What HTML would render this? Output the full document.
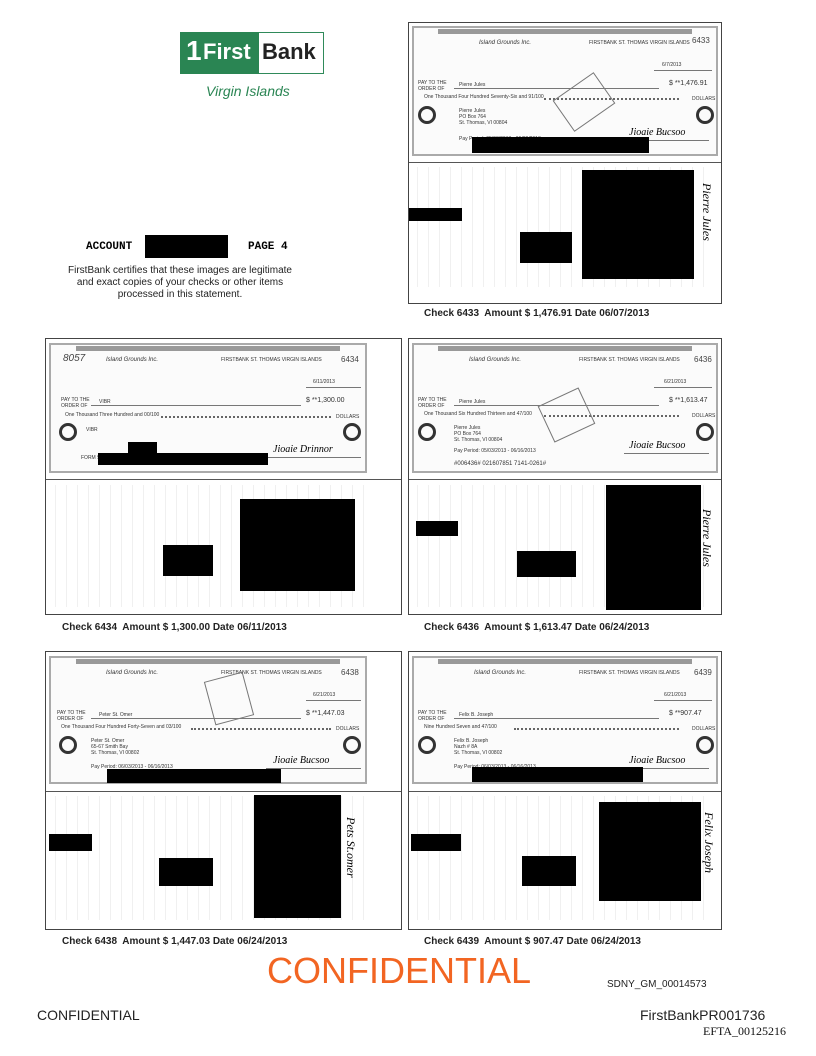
<!DOCTYPE html>
<html><head><meta charset="utf-8"><style>
*{margin:0;padding:0;box-sizing:border-box}
body{width:816px;height:1056px;background:#fff;position:relative;font-family:"Liberation Sans",sans-serif;overflow:hidden}
.a{position:absolute;white-space:nowrap}
.panel{position:absolute;border:1.5px solid #444;background:#fff}
.div{position:absolute;left:0;right:0;border-top:1.5px solid #555}
.chk{position:absolute;border:2px solid #aaa;background:#fbfbfb;overflow:hidden}
.band{position:absolute;left:8%;right:8%;top:1px;height:5px;background:#999}
.ring{position:absolute;width:18px;height:18px;border:3px solid #333;border-radius:50%}
.t{position:absolute;font-size:5px;color:#333;white-space:nowrap}
.ln{position:absolute;border-top:1px solid #777}
.dl{position:absolute;border-top:2px dotted #666}
.blk{position:absolute;background:#000}
.back{position:absolute;background:repeating-linear-gradient(90deg,#fff 0 6px,#f0f0f0 6px 7px,#fff 7px 11px);}
.lbl{position:absolute;font-size:10px;font-weight:bold;color:#222;white-space:nowrap}
.num{position:absolute;font-size:8px;color:#444}
.sig{position:absolute;font-family:'Liberation Serif',serif;font-style:italic;font-size:10px;white-space:nowrap}
.vs{position:absolute;font-family:'Liberation Serif',serif;font-style:italic;font-size:12px;white-space:nowrap;transform:rotate(90deg);transform-origin:left top}
</style></head><body>

<!-- Logo -->
<div class="a" style="left:180px;top:32px;width:144px;height:42px;border:1.5px solid #2f8a5a;background:#fff"></div>
<div class="a" style="left:180px;top:32px;width:79px;height:42px;background:#2a8553"></div>
<div class="a" style="left:186px;top:35px;font-size:28px;font-weight:bold;color:#fff;letter-spacing:-1px">1</div>
<div class="a" style="left:203px;top:39px;font-size:22px;font-weight:bold;color:#fff">First</div>
<div class="a" style="left:262px;top:39px;font-size:22px;font-weight:bold;color:#222">Bank</div>
<div class="a" style="left:206px;top:83px;font-size:14px;font-style:italic;color:#2a8553">Virgin Islands</div>

<div class="a" style="left:86px;top:241px;font-family:'Liberation Mono',monospace;font-weight:bold;font-size:11px">ACCOUNT</div>
<div class="blk" style="left:145px;top:235px;width:83px;height:23px"></div>
<div class="a" style="left:248px;top:241px;font-family:'Liberation Mono',monospace;font-weight:bold;font-size:11px">PAGE 4</div>
<div class="a" style="left:60px;top:265px;width:240px;text-align:center;font-size:10px;line-height:12px;color:#222">FirstBank certifies that these images are legitimate<br>and exact copies of your checks or other items<br>processed in this statement.</div>

<!-- Panel 1 -->
<div class="panel" style="left:408px;top:22px;width:314px;height:282px">
 <div class="chk" style="left:3px;top:3px;width:306px;height:130px">
  <div class="band"></div>
  <div class="t" style="left:65px;top:12px;font-style:italic;font-size:6px">Island Grounds Inc.</div>
  <div class="t" style="left:175px;top:12px">FIRSTBANK ST. THOMAS VIRGIN ISLANDS</div>
  <div class="num" style="left:278px;top:8px">6433</div>
  <div class="t" style="left:248px;top:34px">6/7/2013</div>
  <div class="ln" style="left:240px;top:42px;width:58px"></div>
  <div class="t" style="left:4px;top:52px">PAY TO THE<br>ORDER OF</div>
  <div class="t" style="left:45px;top:54px">Pierre Jules</div>
  <div class="ln" style="left:40px;top:60px;width:205px"></div>
  <div class="t" style="left:255px;top:52px;font-size:7px">$ **1,476.91</div>
  <div class="t" style="left:10px;top:66px">One Thousand Four Hundred Seventy-Six and 91/100</div>
  <div class="dl" style="left:130px;top:70px;width:135px"></div>
  <div class="t" style="left:278px;top:68px">DOLLARS</div>
  <div class="ring" style="left:4px;top:78px"></div><div class="ring" style="left:282px;top:78px"></div>
  <div class="t" style="left:45px;top:80px;line-height:6px">Pierre Jules<br>PO Box 764<br>St. Thomas, VI 00804</div>
  <div class="t" style="left:45px;top:108px">Pay Period: 05/03/2013 - 06/02/2013</div>
  <div class="ln" style="left:210px;top:112px;width:85px"></div>
  <div class="sig" style="left:215px;top:99px">Jioaie Bucsoo</div>
  <div class="a" style="left:145px;top:55px;width:50px;height:38px;border:1px solid #777;transform:rotate(-35deg)"></div>
 </div>
 <div class="blk" style="left:63px;top:114px;width:177px;height:16px"></div>
 <div class="div" style="top:139px"></div>
 <div class="back" style="left:2px;top:144px;width:300px;height:120px"></div>
 <div class="blk" style="left:173px;top:147px;width:112px;height:109px"></div>
 <div class="blk" style="left:111px;top:209px;width:52px;height:31px"></div>
 <div class="blk" style="left:0px;top:185px;width:53px;height:13px"></div>
 <div class="vs" style="left:305px;top:160px">Pierre Jules</div>
</div>
<div class="lbl" style="left:424px;top:308px">Check 6433&nbsp; Amount $ 1,476.91 Date 06/07/2013</div>

<!-- Panel 2 -->
<div class="panel" style="left:45px;top:338px;width:357px;height:277px">
 <div class="chk" style="left:3px;top:4px;width:318px;height:130px">
  <div class="band"></div>
  <div class="t" style="left:55px;top:12px;font-style:italic;font-size:6px">Island Grounds Inc.</div>
  <div class="t" style="left:170px;top:12px">FIRSTBANK ST. THOMAS VIRGIN ISLANDS</div>
  <div class="a" style="left:12px;top:8px;font-style:italic;font-size:10px;color:#444">8057</div>
  <div class="num" style="left:290px;top:10px">6434</div>
  <div class="t" style="left:262px;top:34px">6/11/2013</div>
  <div class="ln" style="left:255px;top:42px;width:55px"></div>
  <div class="t" style="left:10px;top:52px">PAY TO THE<br>ORDER OF</div>
  <div class="t" style="left:48px;top:54px">VIBR</div>
  <div class="ln" style="left:40px;top:60px;width:210px"></div>
  <div class="t" style="left:255px;top:52px;font-size:7px">$ **1,300.00</div>
  <div class="t" style="left:14px;top:67px">One Thousand Three Hundred and 00/100</div>
  <div class="dl" style="left:110px;top:71px;width:170px"></div>
  <div class="t" style="left:285px;top:69px">DOLLARS</div>
  <div class="ring" style="left:8px;top:78px"></div><div class="ring" style="left:292px;top:78px"></div>
  <div class="t" style="left:35px;top:82px">VIBR</div>
  <div class="t" style="left:30px;top:110px">FORM 901 VI B/NP</div>
  <div class="ln" style="left:215px;top:112px;width:95px"></div>
  <div class="sig" style="left:222px;top:99px">Jioaie Drinnor</div>
 </div>
 <div class="blk" style="left:82px;top:103px;width:29px;height:15px"></div>
 <div class="blk" style="left:52px;top:114px;width:170px;height:12px"></div>
 <div class="div" style="top:140px"></div>
 <div class="back" style="left:3px;top:146px;width:315px;height:122px"></div>
 <div class="blk" style="left:194px;top:160px;width:115px;height:92px"></div>
 <div class="blk" style="left:117px;top:206px;width:50px;height:31px"></div>
</div>
<div class="lbl" style="left:62px;top:622px">Check 6434&nbsp; Amount $ 1,300.00 Date 06/11/2013</div>

<!-- Panel 3 -->
<div class="panel" style="left:408px;top:338px;width:314px;height:277px">
 <div class="chk" style="left:3px;top:4px;width:306px;height:130px">
  <div class="band"></div>
  <div class="t" style="left:55px;top:12px;font-style:italic;font-size:6px">Island Grounds Inc.</div>
  <div class="t" style="left:165px;top:12px">FIRSTBANK ST. THOMAS VIRGIN ISLANDS</div>
  <div class="num" style="left:280px;top:10px">6436</div>
  <div class="t" style="left:250px;top:34px">6/21/2013</div>
  <div class="ln" style="left:240px;top:42px;width:58px"></div>
  <div class="t" style="left:4px;top:52px">PAY TO THE<br>ORDER OF</div>
  <div class="t" style="left:45px;top:54px">Pierre Jules</div>
  <div class="ln" style="left:40px;top:60px;width:205px"></div>
  <div class="t" style="left:255px;top:52px;font-size:7px">$ **1,613.47</div>
  <div class="t" style="left:10px;top:66px">One Thousand Six Hundred Thirteen and 47/100</div>
  <div class="dl" style="left:130px;top:70px;width:135px"></div>
  <div class="t" style="left:278px;top:68px">DOLLARS</div>
  <div class="ring" style="left:4px;top:78px"></div><div class="ring" style="left:282px;top:78px"></div>
  <div class="t" style="left:40px;top:80px;line-height:6px">Pierre Jules<br>PO Box 764<br>St. Thomas, VI 00804</div>
  <div class="t" style="left:40px;top:103px">Pay Period: 05/03/2013 - 06/16/2013</div>
  <div class="t" style="left:40px;top:116px;font-size:6px">#006436# 021607851 7141-0261#</div>
  <div class="ln" style="left:210px;top:108px;width:85px"></div>
  <div class="sig" style="left:215px;top:95px">Jioaie Bucsoo</div>
  <div class="a" style="left:130px;top:50px;width:45px;height:40px;border:1px solid #777;transform:rotate(-25deg)"></div>
 </div>
 <div class="div" style="top:140px"></div>
 <div class="back" style="left:2px;top:146px;width:300px;height:122px"></div>
 <div class="blk" style="left:197px;top:146px;width:95px;height:125px"></div>
 <div class="blk" style="left:108px;top:212px;width:59px;height:26px"></div>
 <div class="blk" style="left:7px;top:182px;width:42px;height:15px"></div>
 <div class="vs" style="left:305px;top:170px">Pierre Jules</div>
</div>
<div class="lbl" style="left:424px;top:622px">Check 6436&nbsp; Amount $ 1,613.47 Date 06/24/2013</div>

<!-- Panel 4 -->
<div class="panel" style="left:45px;top:651px;width:357px;height:279px">
 <div class="chk" style="left:3px;top:4px;width:318px;height:128px">
  <div class="band"></div>
  <div class="t" style="left:55px;top:12px;font-style:italic;font-size:6px">Island Grounds Inc.</div>
  <div class="t" style="left:170px;top:12px">FIRSTBANK ST. THOMAS VIRGIN ISLANDS</div>
  <div class="num" style="left:290px;top:10px">6438</div>
  <div class="t" style="left:262px;top:34px">6/21/2013</div>
  <div class="ln" style="left:255px;top:42px;width:55px"></div>
  <div class="t" style="left:6px;top:52px">PAY TO THE<br>ORDER OF</div>
  <div class="t" style="left:48px;top:54px">Peter St. Omer</div>
  <div class="ln" style="left:40px;top:60px;width:210px"></div>
  <div class="t" style="left:255px;top:52px;font-size:7px">$ **1,447.03</div>
  <div class="t" style="left:10px;top:66px">One Thousand Four Hundred Forty-Seven and 03/100</div>
  <div class="dl" style="left:140px;top:70px;width:140px"></div>
  <div class="t" style="left:285px;top:68px">DOLLARS</div>
  <div class="ring" style="left:8px;top:78px"></div><div class="ring" style="left:292px;top:78px"></div>
  <div class="t" style="left:40px;top:80px;line-height:6px">Peter St. Omer<br>65-67 Smith Bay<br>St. Thomas, VI 00802</div>
  <div class="t" style="left:40px;top:106px">Pay Period: 06/03/2013 - 06/16/2013</div>
  <div class="ln" style="left:215px;top:110px;width:95px"></div>
  <div class="sig" style="left:222px;top:97px">Jioaie Bucsoo</div>
  <div class="a" style="left:158px;top:18px;width:40px;height:45px;border:1px solid #777;transform:rotate(-15deg)"></div>
 </div>
 <div class="blk" style="left:61px;top:117px;width:174px;height:14px"></div>
 <div class="div" style="top:139px"></div>
 <div class="back" style="left:3px;top:144px;width:315px;height:124px"></div>
 <div class="blk" style="left:208px;top:143px;width:87px;height:123px"></div>
 <div class="blk" style="left:113px;top:206px;width:54px;height:28px"></div>
 <div class="blk" style="left:3px;top:182px;width:43px;height:17px"></div>
 <div class="vs" style="left:312px;top:165px">Pets St.omer</div>
</div>
<div class="lbl" style="left:62px;top:936px">Check 6438&nbsp; Amount $ 1,447.03 Date 06/24/2013</div>

<!-- Panel 5 -->
<div class="panel" style="left:408px;top:651px;width:314px;height:279px">
 <div class="chk" style="left:3px;top:4px;width:306px;height:128px">
  <div class="band"></div>
  <div class="t" style="left:60px;top:12px;font-style:italic;font-size:6px">Island Grounds Inc.</div>
  <div class="t" style="left:165px;top:12px">FIRSTBANK ST. THOMAS VIRGIN ISLANDS</div>
  <div class="num" style="left:280px;top:10px">6439</div>
  <div class="t" style="left:250px;top:34px">6/21/2013</div>
  <div class="ln" style="left:240px;top:42px;width:58px"></div>
  <div class="t" style="left:4px;top:52px">PAY TO THE<br>ORDER OF</div>
  <div class="t" style="left:45px;top:54px">Felix B. Joseph</div>
  <div class="ln" style="left:40px;top:60px;width:205px"></div>
  <div class="t" style="left:255px;top:52px;font-size:7px">$ **907.47</div>
  <div class="t" style="left:10px;top:66px">Nine Hundred Seven and 47/100</div>
  <div class="dl" style="left:100px;top:70px;width:165px"></div>
  <div class="t" style="left:278px;top:68px">DOLLARS</div>
  <div class="ring" style="left:4px;top:78px"></div><div class="ring" style="left:282px;top:78px"></div>
  <div class="t" style="left:40px;top:80px;line-height:6px">Felix B. Joseph<br>Nazh # 8A<br>St. Thomas, VI 00802</div>
  <div class="t" style="left:40px;top:106px">Pay Period: 06/03/2013 - 06/16/2013</div>
  <div class="ln" style="left:210px;top:110px;width:85px"></div>
  <div class="sig" style="left:215px;top:97px">Jioaie Bucsoo</div>
 </div>
 <div class="blk" style="left:63px;top:115px;width:171px;height:15px"></div>
 <div class="div" style="top:139px"></div>
 <div class="back" style="left:2px;top:144px;width:300px;height:124px"></div>
 <div class="blk" style="left:190px;top:150px;width:102px;height:99px"></div>
 <div class="blk" style="left:113px;top:204px;width:54px;height:30px"></div>
 <div class="blk" style="left:2px;top:182px;width:50px;height:17px"></div>
 <div class="vs" style="left:307px;top:160px">Felix Joseph</div>
</div>
<div class="lbl" style="left:424px;top:936px">Check 6439&nbsp; Amount $ 907.47 Date 06/24/2013</div>

<div class="a" style="left:267px;top:950px;font-size:36px;color:#f26522">CONFIDENTIAL</div>
<div class="a" style="left:607px;top:979px;font-size:10px;color:#222">SDNY_GM_00014573</div>
<div class="a" style="left:37px;top:1007px;font-size:14px;color:#222">CONFIDENTIAL</div>
<div class="a" style="left:640px;top:1007px;font-size:14px;color:#222">FirstBankPR001736</div>
<div class="a" style="left:703px;top:1024px;font-size:12px;font-family:'Liberation Serif',serif;color:#111">EFTA_00125216</div>
</body></html>
